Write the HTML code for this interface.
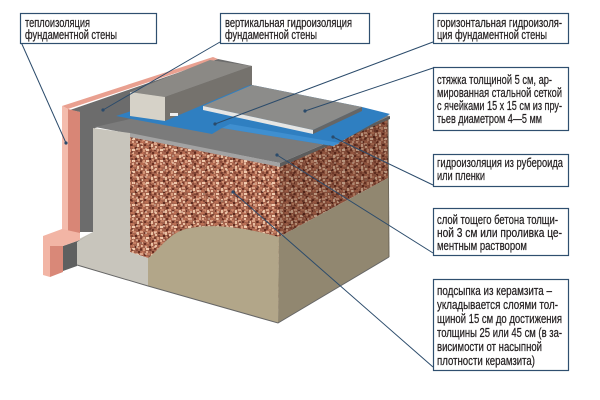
<!DOCTYPE html>
<html><head><meta charset="utf-8"><style>
html,body{margin:0;padding:0;background:#fff;}
svg{display:block;}
text{font-family:"Liberation Sans Narrow","Liberation Sans","DejaVu Sans",sans-serif;font-size:13px;fill:#231f20;}
</style></head><body>
<svg width="600" height="400" viewBox="0 0 600 400" xmlns="http://www.w3.org/2000/svg">
<defs>
<pattern id="ker" width="14" height="11" patternUnits="userSpaceOnUse">
<rect width="14" height="11" fill="#a4634d"/>
<rect x="0" y="0" width="3" height="2" fill="#dca488"/>
<rect x="4" y="1" width="2" height="2" fill="#6f3426"/>
<rect x="7" y="0" width="3" height="2" fill="#c47e62"/>
<rect x="11" y="1" width="2" height="3" fill="#e9c0a2"/>
<rect x="1" y="3" width="2" height="2" fill="#e8bd9f"/>
<rect x="5" y="3" width="3" height="2" fill="#bb7055"/>
<rect x="9" y="4" width="2" height="2" fill="#5e2c20"/>
<rect x="12" y="5" width="2" height="2" fill="#cf8e70"/>
<rect x="0" y="6" width="2" height="2" fill="#7a3c2c"/>
<rect x="3" y="6" width="2" height="3" fill="#d69779"/>
<rect x="6" y="6" width="3" height="2" fill="#f0caae"/>
<rect x="10" y="7" width="2" height="2" fill="#8d4b39"/>
<rect x="1" y="9" width="3" height="2" fill="#b86c52"/>
<rect x="6" y="9" width="2" height="2" fill="#e2ab8e"/>
<rect x="12" y="9" width="2" height="2" fill="#6a3022"/>
</pattern>
<pattern id="ker2" width="9" height="7" patternUnits="userSpaceOnUse">
<rect x="1" y="1" width="2" height="2" fill="#f3d3bb" opacity="0.55"/>
<rect x="5" y="4" width="2" height="2" fill="#4e2218" opacity="0.45"/>
<rect x="7" y="0" width="1" height="2" fill="#d99a7c" opacity="0.5"/>
</pattern>
</defs>

<!-- dark grey vertical waterproofing region -->
<polygon points="70,110 218,59 252,66 252,90 95,128 93,232 80,232 80,112" fill="#6c6c6c"/>

<!-- block front face keramzit -->
<polygon points="130,137 280,165 278,323 148,286 148,258 130,252" fill="url(#ker)"/>
<polygon points="130,137 280,165 278,323 148,286 148,258 130,252" fill="url(#ker2)"/>
<!-- block right face keramzit -->
<polygon points="280,165 388,117 388,178 279,237" fill="url(#ker)"/>
<polygon points="280,165 388,117 388,178 279,237" fill="url(#ker2)"/>
<polygon points="280,165 388,117 388,178 279,237" fill="#2a1208" opacity="0.28"/>
<!-- sand front -->
<path d="M148,286 L148,258 C160,250 168,232 190,228 C210,224 240,226 279,237 L278,323 Z" fill="#b2a689"/>
<!-- sand right -->
<polygon points="279,237 388,178 389,257 278,323" fill="#918770"/>
<line x1="388" y1="117" x2="389" y2="257" stroke="#6d6658" stroke-width="1"/>

<!-- grey layer top -->
<polygon points="95,127 130,119 252,88 390,116 280,163" fill="#7b7b7b"/>
<polygon points="130,133 280,163 280,167 130,137" fill="#a3a3a3"/>
<polygon points="280,163 390,116 390,119 280,167" fill="#5c5c5c"/>

<!-- blue membrane -->
<polygon points="116,116 212,134 222,128 333,146 390,114 362,107 252,85 165,100" fill="#2f7fc1"/>
<polygon points="222,128 333,146 340,143 230,124" fill="#3f8fd0"/>

<!-- slab -->
<polygon points="203,106 252,85 362,107 313,130" fill="#8c8c8a"/>
<polygon points="203,106 313,130 313,134 203,110" fill="#e6e6e4"/>
<polygon points="313,130 362,107 362,111 313,134" fill="#666"/>

<!-- light grey foundation wall -->
<polygon points="93,128 130,133 130,252 148,258 148,286 77,265 77,240 93,232" fill="#c8c5bc"/>
<polyline points="77,265 148,286 278,323 389,257" fill="none" stroke="#666" stroke-width="1"/>

<!-- pink insulation -->
<polygon points="62,106 213,57 218,59 68,109" fill="#e9a090"/>
<polygon points="62,106 68,109 68,238 62,236" fill="#f4bcad"/>
<polygon points="68,109 80,112 80,240 68,238" fill="#d88676"/>

<!-- shadow under foot -->
<polygon points="63,246 80,240 93,232 77,242 77,266 63,271" fill="#5f6060"/>
<!-- pink foot -->
<polygon points="43,236 62,229 80,233 80,240 63,246 50,246 50,277 43,275" fill="#f2b5a5"/>
<polygon points="50,246 63,246 63,272 50,277" fill="#d98878"/>

<!-- beam -->
<polygon points="130,92 210,60 252,66 165,97" fill="#8b8985"/>
<polygon points="165,97 252,66 252,84 165,121" fill="#75726d"/>
<polygon points="130,92 165,97 165,121 130,116" fill="#d6d2c8"/>
<rect x="170" y="113" width="8" height="3" fill="#eee"/>

<!-- connectors -->
<g stroke="#2b4b6b" stroke-width="1" fill="none">
<line x1="21" y1="42" x2="66" y2="143"/>
<line x1="220" y1="42" x2="103" y2="110"/>
<line x1="433" y1="42" x2="215" y2="124"/>
<line x1="433" y1="68" x2="305" y2="111"/>
<line x1="433" y1="185" x2="333" y2="137"/>
<line x1="433" y1="253" x2="277" y2="155"/>
<line x1="433" y1="367" x2="233" y2="192"/>
</g>
<g fill="#2b4b6b">
<circle cx="66" cy="143" r="1.6"/>
<circle cx="103" cy="110" r="1.6"/>
<circle cx="215" cy="124" r="1.6"/>
<circle cx="305" cy="111" r="1.6"/>
<circle cx="333" cy="137" r="1.6"/>
<circle cx="277" cy="155" r="1.6"/>
<circle cx="233" cy="192" r="1.6"/>
</g>

<!-- boxes -->
<g fill="#fff" stroke="#2f4f6f" stroke-width="1.2">
<rect x="20.5" y="13.5" width="136" height="30"/>
<rect x="220.5" y="13.5" width="149" height="30"/>
<rect x="433.5" y="13.5" width="135" height="30"/>
<rect x="433.5" y="67.5" width="135" height="63"/>
<rect x="433.5" y="154.5" width="135" height="32"/>
<rect x="433.5" y="208.5" width="135" height="47"/>
<rect x="433.5" y="279.5" width="135" height="91"/>
</g>

<g stroke="#231f20" stroke-width="0.25">
<text x="25" y="27" textLength="65" lengthAdjust="spacingAndGlyphs">теплоизоляция</text>
<text x="25" y="39" textLength="92" lengthAdjust="spacingAndGlyphs">фундаментной стены</text>

<text x="225" y="27" textLength="127" lengthAdjust="spacingAndGlyphs">вертикальная гидроизоляция</text>
<text x="225" y="39" textLength="92" lengthAdjust="spacingAndGlyphs">фундаментной стены</text>

<text x="437" y="27" textLength="125" lengthAdjust="spacingAndGlyphs">горизонтальная гидроизоля-</text>
<text x="437" y="39" textLength="110" lengthAdjust="spacingAndGlyphs">ция фундаментной стены</text>

<text x="437" y="84" textLength="115" lengthAdjust="spacingAndGlyphs">стяжка толщиной 5 см, ар-</text>
<text x="437" y="97" textLength="125" lengthAdjust="spacingAndGlyphs">мированная стальной сеткой</text>
<text x="437" y="110" textLength="125" lengthAdjust="spacingAndGlyphs">с ячейками 15 х 15 см из пру-</text>
<text x="437" y="123" textLength="105" lengthAdjust="spacingAndGlyphs">тьев диаметром 4—5 мм</text>

<text x="437" y="167" textLength="126" lengthAdjust="spacingAndGlyphs">гидроизоляция из рубероида</text>
<text x="437" y="180" textLength="48" lengthAdjust="spacingAndGlyphs">или пленки</text>

<text x="437" y="224" textLength="121" lengthAdjust="spacingAndGlyphs">слой тощего бетона толщи-</text>
<text x="437" y="237" textLength="125" lengthAdjust="spacingAndGlyphs">ной 3 см или проливка це-</text>
<text x="437" y="250" textLength="90" lengthAdjust="spacingAndGlyphs">ментным раствором</text>

<text x="437" y="295" textLength="115" lengthAdjust="spacingAndGlyphs">подсыпка из керамзита –</text>
<text x="437" y="309" textLength="121" lengthAdjust="spacingAndGlyphs">укладывается слоями тол-</text>
<text x="437" y="323" textLength="125" lengthAdjust="spacingAndGlyphs">щиной 15 см до достижения</text>
<text x="437" y="337" textLength="125" lengthAdjust="spacingAndGlyphs">толщины 25 или 45 см (в за-</text>
<text x="437" y="351" textLength="105" lengthAdjust="spacingAndGlyphs">висимости от насыпной</text>
<text x="437" y="365" textLength="98" lengthAdjust="spacingAndGlyphs">плотности керамзита)</text>
</g>
</svg>
</body></html>
